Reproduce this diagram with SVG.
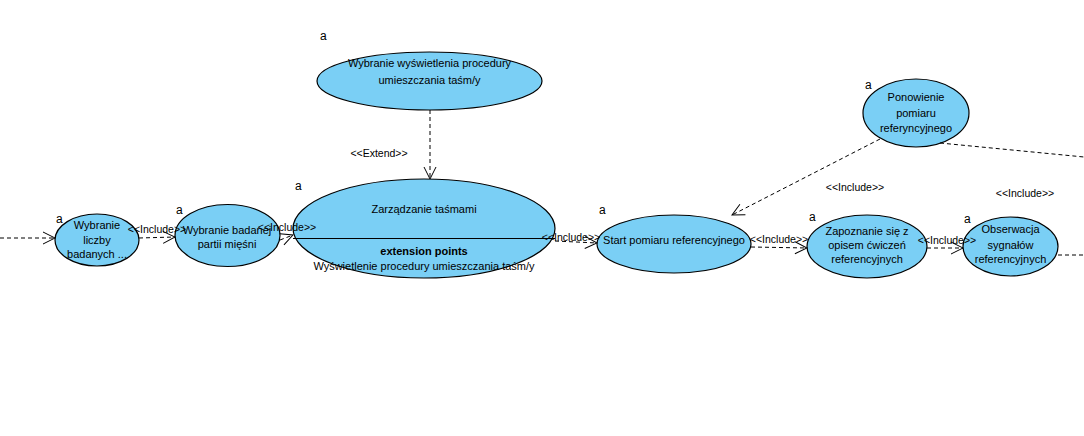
<svg xmlns="http://www.w3.org/2000/svg" width="1084" height="436" viewBox="0 0 1084 436">
<style>
.uc{fill:#7ACFF5;stroke:#000;stroke-width:1.2}
.t{font-family:"Liberation Sans",Arial,sans-serif;font-size:11px;fill:#000;text-anchor:middle}
.a{font-family:"Liberation Sans",Arial,sans-serif;font-size:12px;fill:#000}
.lbl{font-family:"Liberation Sans",Arial,sans-serif;font-size:10.5px;fill:#000;text-anchor:middle}
.c{fill:none;stroke:#000;stroke-width:1;stroke-dasharray:4,3}
</style>
<defs>
<marker id="open" markerWidth="14" markerHeight="14" refX="13" refY="7" orient="auto" markerUnits="userSpaceOnUse">
<path d="M1,1 L13,7 L1,13" fill="none" stroke="#000" stroke-width="1"/>
</marker>
</defs>
<rect width="1084" height="436" fill="#fff"/>
<g id="n1">
<ellipse class="uc" cx="97" cy="240" rx="42" ry="26"/>
<text class="a" x="56" y="223">a</text>
<text class="t" x="97" y="229">Wybranie</text>
<text class="t" x="97" y="244">liczby</text>
<text class="t" x="97" y="258">badanych ...</text>
</g>
<g id="n2">
<ellipse class="uc" cx="227.5" cy="235.5" rx="52.5" ry="31"/>
<text class="a" x="176" y="214">a</text>
<text class="t" x="227" y="234">Wybranie badanej</text>
<text class="t" x="227" y="248">partii mięśni</text>
</g>
<g id="n3">
<ellipse class="uc" cx="424" cy="228.5" rx="131" ry="49.5"/>
<line x1="293" y1="238.5" x2="555" y2="238.5" stroke="#000" stroke-width="1.2"/>
<text class="a" x="295" y="190">a</text>
<text class="t" x="424" y="213">Zarządzanie taśmami</text>
<text class="t" x="424" y="255" font-weight="bold">extension points</text>
<text class="t" x="424" y="270">Wyświetlenie procedury umieszczania taśm/y</text>
</g>
<g id="n4">
<ellipse class="uc" cx="429.5" cy="81" rx="112.5" ry="29"/>
<text class="a" x="320" y="40">a</text>
<text class="t" x="429.5" y="67">Wybranie wyświetlenia procedury</text>
<text class="t" x="429.5" y="84">umieszczania taśm/y</text>
</g>
<g id="n5">
<ellipse class="uc" cx="674" cy="244" rx="77" ry="29"/>
<text class="a" x="599" y="214">a</text>
<text class="t" x="674" y="244">Start pomiaru referencyjnego</text>
</g>
<g id="n6">
<ellipse class="uc" cx="867" cy="246.5" rx="60" ry="31.5"/>
<text class="a" x="809" y="221">a</text>
<text class="t" x="867" y="235">Zapoznanie się z</text>
<text class="t" x="867" y="249">opisem ćwiczeń</text>
<text class="t" x="867" y="263">referencyjnych</text>
</g>
<g id="n7">
<ellipse class="uc" cx="1010.5" cy="246.5" rx="47.5" ry="29.5"/>
<text class="a" x="964" y="223">a</text>
<text class="t" x="1010.5" y="233">Obserwacja</text>
<text class="t" x="1010.5" y="249">sygnałów</text>
<text class="t" x="1010.5" y="263">referencyjnych</text>
</g>
<g id="n8">
<ellipse class="uc" cx="916" cy="113" rx="53" ry="34"/>
<text class="a" x="865" y="89">a</text>
<text class="t" x="916" y="101">Ponowienie</text>
<text class="t" x="916" y="117">pomiaru</text>
<text class="t" x="916" y="132">referyncyjnego</text>
</g>
<g id="connectors">
<line class="c" x1="0" y1="238" x2="55" y2="238" marker-end="url(#open)"/>
<line class="c" x1="139" y1="238" x2="175" y2="237" marker-end="url(#open)"/>
<line class="c" x1="280" y1="240" x2="293" y2="235" marker-end="url(#open)"/>
<line class="c" x1="555" y1="241" x2="597" y2="243" marker-end="url(#open)"/>
<line class="c" x1="751" y1="247" x2="807" y2="248" marker-end="url(#open)"/>
<line class="c" x1="927" y1="248" x2="963" y2="248" marker-end="url(#open)"/>
<line class="c" x1="1058" y1="255" x2="1084" y2="255"/>
<line class="c" x1="880" y1="139" x2="732" y2="215" marker-end="url(#open)"/>
<line class="c" x1="940" y1="143" x2="1084" y2="157"/>
<line class="c" x1="430" y1="110" x2="430" y2="179" marker-end="url(#open)"/>
<text class="lbl" x="157" y="233">&lt;&lt;Include&gt;&gt;</text>
<text class="lbl" x="287" y="231">&lt;&lt;Include&gt;&gt;</text>
<text class="lbl" x="571" y="241">&lt;&lt;Include&gt;&gt;</text>
<text class="lbl" x="779" y="243">&lt;&lt;Include&gt;&gt;</text>
<text class="lbl" x="947" y="244">&lt;&lt;Include&gt;&gt;</text>
<text class="lbl" x="855" y="191">&lt;&lt;Include&gt;&gt;</text>
<text class="lbl" x="1025" y="197" text-anchor="start">&lt;&lt;Include&gt;&gt;</text>
<text class="lbl" x="379" y="157">&lt;&lt;Extend&gt;&gt;</text>
</g>
</svg>
